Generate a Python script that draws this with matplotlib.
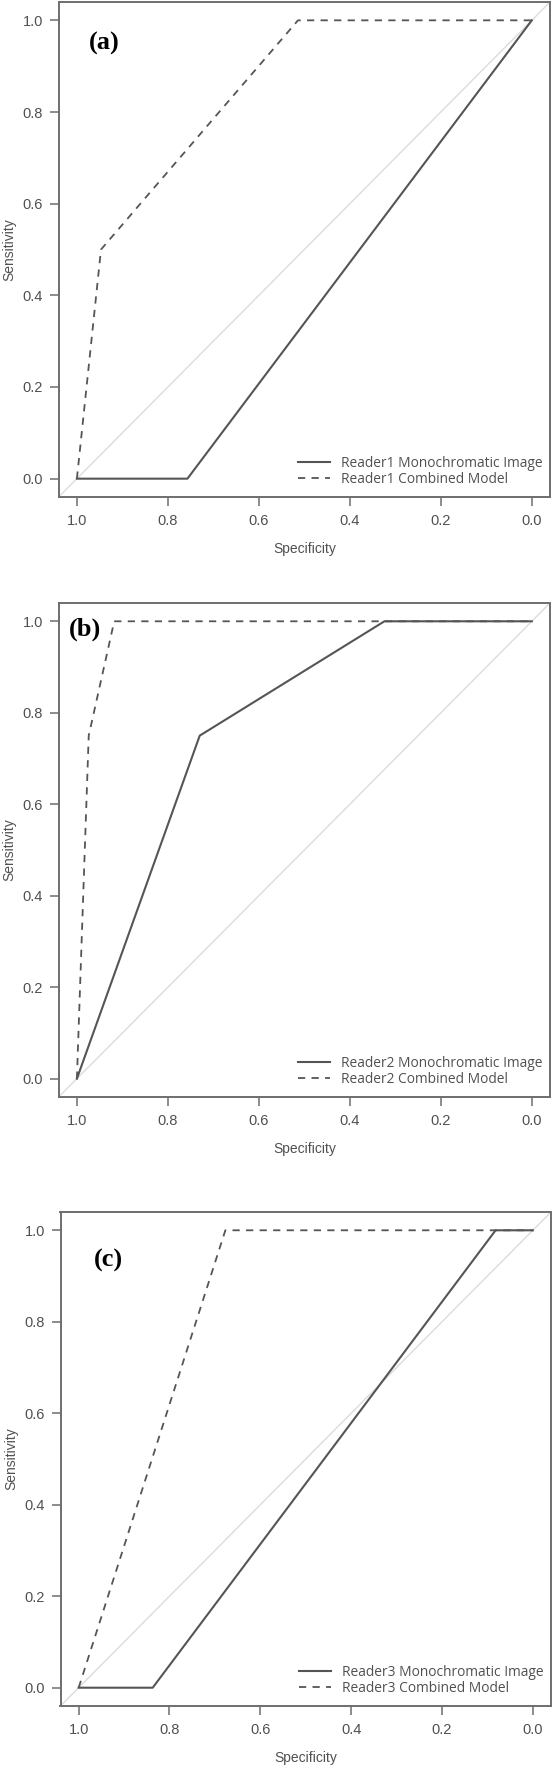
import matplotlib
matplotlib.use("Agg")
import matplotlib.pyplot as plt

# ---- data ----
panel_labels = ["(a)", "(b)", "(c)"]
reader_names = ["Reader1", "Reader2", "Reader3"]
series_names = ["Monochromatic Image", "Combined Model"]

mono_spec = [[1.0, 0.757, 0.0],
             [1.0, 0.730, 0.324, 0.0],
             [1.0, 0.837, 0.082, 0.0]]
mono_sens = [[0.0, 0.0, 1.0],
             [0.0, 0.75, 1.0, 1.0],
             [0.0, 0.0, 1.0, 1.0]]

comb_spec = [[1.0, 0.947, 0.514, 0.0],
             [1.0, 0.974, 0.918, 0.0],
             [1.0, 0.677, 0.0]]
comb_sens = [[0.0, 0.5, 1.0, 1.0],
             [0.0, 0.75, 1.0, 1.0],
             [0.0, 1.0, 1.0]]

ticks = [1.0, 0.8, 0.6, 0.4, 0.2, 0.0]
tick_labels = ["1.0", "0.8", "0.6", "0.4", "0.2", "0.0"]
chance = [(1.0, 0.0), (0.0, 1.0)]
label_pos = [(0.939, 0.95), (0.983, 0.983), (0.934, 0.935)]

# ---- layout ----
W, H = 557, 1769
fig = plt.figure(figsize=(W / 100, H / 100), dpi=100)
boxes = [(58.7, 2, 550, 497), (58.7, 603, 550, 1097), (60.5, 1212, 551, 1706)]

line_col = "#555555"
axis_col = "#6e6e6e"
text_col = "#505050"

for i, (l, t, r, b) in enumerate(boxes):
    ax = fig.add_axes([l / W, 1 - b / H, (r - l) / W, (b - t) / H])
    ax.axline(chance[0], chance[1], color="#dcdcdc", lw=1.0, zorder=1)
    ax.plot(mono_spec[i], mono_sens[i], color=line_col, lw=1.5, ls="-",
            label=f"{reader_names[i]} {series_names[0]}", zorder=3)
    ax.plot(comb_spec[i], comb_sens[i], color=line_col, lw=1.3,
            ls=(0, (4, 3.5)),
            label=f"{reader_names[i]} {series_names[1]}", zorder=3)
    ax.set_xlim(1.04, -0.04)
    ax.set_ylim(-0.04, 1.04)
    ax.set_xticks(ticks)
    ax.set_xticklabels(tick_labels)
    ax.set_yticks(ticks)
    ax.set_yticklabels(tick_labels)
    for s in ax.spines.values():
        s.set_color(axis_col)
        s.set_linewidth(1.4)
    ax.tick_params(axis="both", direction="out", length=6.2, width=1.1,
                   color=axis_col, labelcolor=text_col, labelsize=10.5)
    ax.tick_params(axis="x", pad=6)
    ax.tick_params(axis="y", pad=5)
    for lab in ax.get_xticklabels() + ax.get_yticklabels():
        lab.set_fontfamily("Liberation Sans")
    ax.set_xlabel("Specificity", fontsize=10, color=text_col,
                  family="Liberation Sans")
    ax.set_ylabel("Sensitivity", fontsize=10, color=text_col,
                  family="Liberation Sans")
    ax.xaxis.set_label_coords(0.5, -0.105)
    ax.yaxis.set_label_coords(-0.101, 0.5)
    ax.xaxis.label.set_va("center")
    ax.yaxis.label.set_va("center")
    leg = ax.legend(loc="lower right", bbox_to_anchor=(1.0, 0.005),
                    frameon=False,
                    prop={"family": "Open Sans", "size": 9.9},
                    handlelength=2.3, handletextpad=0.8,
                    labelspacing=0.05, borderaxespad=0.15)
    for txt in leg.get_texts():
        txt.set_color(text_col)
    ax.text(label_pos[i][0], label_pos[i][1], panel_labels[i],
            family="Liberation Serif", fontweight="bold", fontsize=19,
            ha="center", va="center", color="black", zorder=4)

fig.savefig("out.png", dpi=100)
